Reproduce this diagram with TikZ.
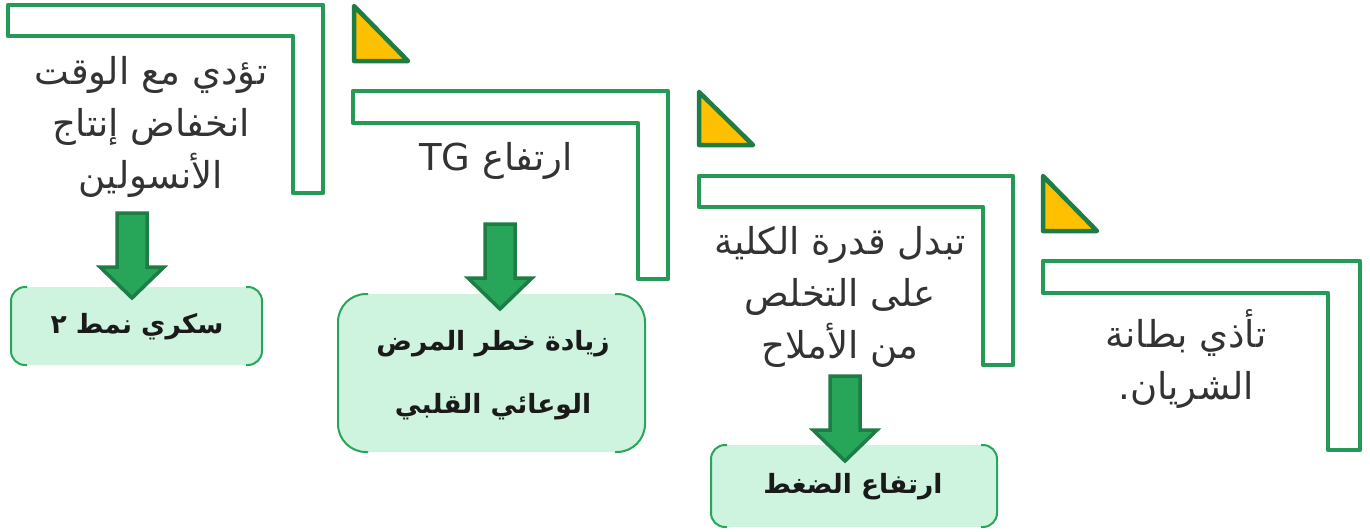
\documentclass[tikz,border=0pt]{standalone}
\usepackage{fontspec}
\TeXXeTstate=1
\newfontfamily\arabicfont[Script=Arabic]{DejaVu Sans}
\newcommand{\rtl}[1]{\beginR #1\endR}

\definecolor{stepgreen}{RGB}{36,154,86}
\definecolor{darkgreen}{RGB}{29,125,68}
\definecolor{flagyellow}{RGB}{255,192,0}
\definecolor{arrowgreen}{RGB}{39,166,90}
\definecolor{mint}{RGB}{206,243,222}
\definecolor{boxgreen}{RGB}{39,165,90}
\definecolor{textgray}{RGB}{51,51,51}
\definecolor{textdark}{RGB}{26,26,26}

\begin{document}
\begin{tikzpicture}[x=1pt,y=-1pt,
  frame/.style={draw=stepgreen, line width=4.5pt, line join=round, fill=white},
  flag/.style={draw=darkgreen, line width=4.5pt, line join=round, fill=flagyellow},
  downarrow/.style={draw=darkgreen, line width=3.5pt, fill=arrowgreen, line join=miter},
  resultfill/.style={fill=mint, draw=none},
  resultedge/.style={draw=boxgreen, line width=2pt},
  steptext/.style={font=\arabicfont\fontsize{37}{52}\selectfont, text=textgray, align=center, inner sep=0pt},
  resulttext/.style={font=\arabicfont\bfseries\fontsize{26.5}{63}\selectfont, text=textdark, align=center, inner sep=0pt}]

\useasboundingbox (0,0) rectangle (1370,531);

% stair frames
\draw[frame] (8,5) -- (323,5) -- (323,193) -- (293,193) -- (293,36) -- (8,36) -- cycle;
\draw[frame] (353,91) -- (668,91) -- (668,279) -- (638,279) -- (638,123) -- (353,123) -- cycle;
\draw[frame] (699,176) -- (1013,176) -- (1013,365) -- (983,365) -- (983,207) -- (699,207) -- cycle;
\draw[frame] (1043,261) -- (1360,261) -- (1360,450) -- (1328,450) -- (1328,293) -- (1043,293) -- cycle;

% flags
\draw[flag] (354,6) -- (354,61) -- (408,61) -- cycle;
\draw[flag] (699,92) -- (699,145) -- (753,145) -- cycle;
\draw[flag] (1043,176) -- (1043,231) -- (1097,231) -- cycle;

% step texts
\node[steptext] (cause1) at (151,127) {\rtl{تؤدي مع الوقت}\\\rtl{انخفاض إنتاج}\\\rtl{الأنسولين}};
\node[steptext] (cause2) at (496,161) {\rtl{ارتفاع \beginL TG\endL}};
\node[steptext] (cause3) at (840,297) {\rtl{تبدل قدرة الكلية}\\\rtl{على التخلص}\\\rtl{من الأملاح}};
\node[steptext] (cause4) at (1186,359) {\rtl{تأذي بطانة}\\\rtl{الشريان.}};

% result boxes
\fill[resultfill, rounded corners=14pt] (11,287) rectangle (262,365);
\draw[resultedge, rounded corners=14pt] (27,287) -- (11,287) -- (11,365) -- (27,365);
\draw[resultedge, rounded corners=14pt] (246,287) -- (262,287) -- (262,365) -- (246,365);

\fill[resultfill, rounded corners=28pt] (338,294) rectangle (645,452);
\draw[resultedge, rounded corners=28pt] (368,294) -- (338,294) -- (338,452) -- (368,452);
\draw[resultedge, rounded corners=28pt] (615,294) -- (645,294) -- (645,452) -- (615,452);

\fill[resultfill, rounded corners=14pt] (711,445) rectangle (997,527);
\draw[resultedge, rounded corners=14pt] (727,445) -- (711,445) -- (711,527) -- (727,527);
\draw[resultedge, rounded corners=14pt] (981,445) -- (997,445) -- (997,527) -- (981,527);

\node[resulttext] (effect1) at (137,327) {\rtl{سكري نمط ٢}};
\node[resulttext] (effect2) at (493,375) {\rtl{زيادة خطر المرض}\\\rtl{الوعائي القلبي}};
\node[resulttext] (effect3) at (853,487) {\rtl{ارتفاع الضغط}};

% down arrows
\draw[downarrow] (117,213) -- (147,213) -- (147,267) -- (164,267) -- (132,298) -- (100,267) -- (117,267) -- cycle;
\draw[downarrow] (485,224) -- (515,224) -- (515,278) -- (532,278) -- (500,309) -- (468,278) -- (485,278) -- cycle;
\draw[downarrow] (830,376) -- (860,376) -- (860,430) -- (877,430) -- (845,461) -- (813,430) -- (830,430) -- cycle;
\end{tikzpicture}
\end{document}
